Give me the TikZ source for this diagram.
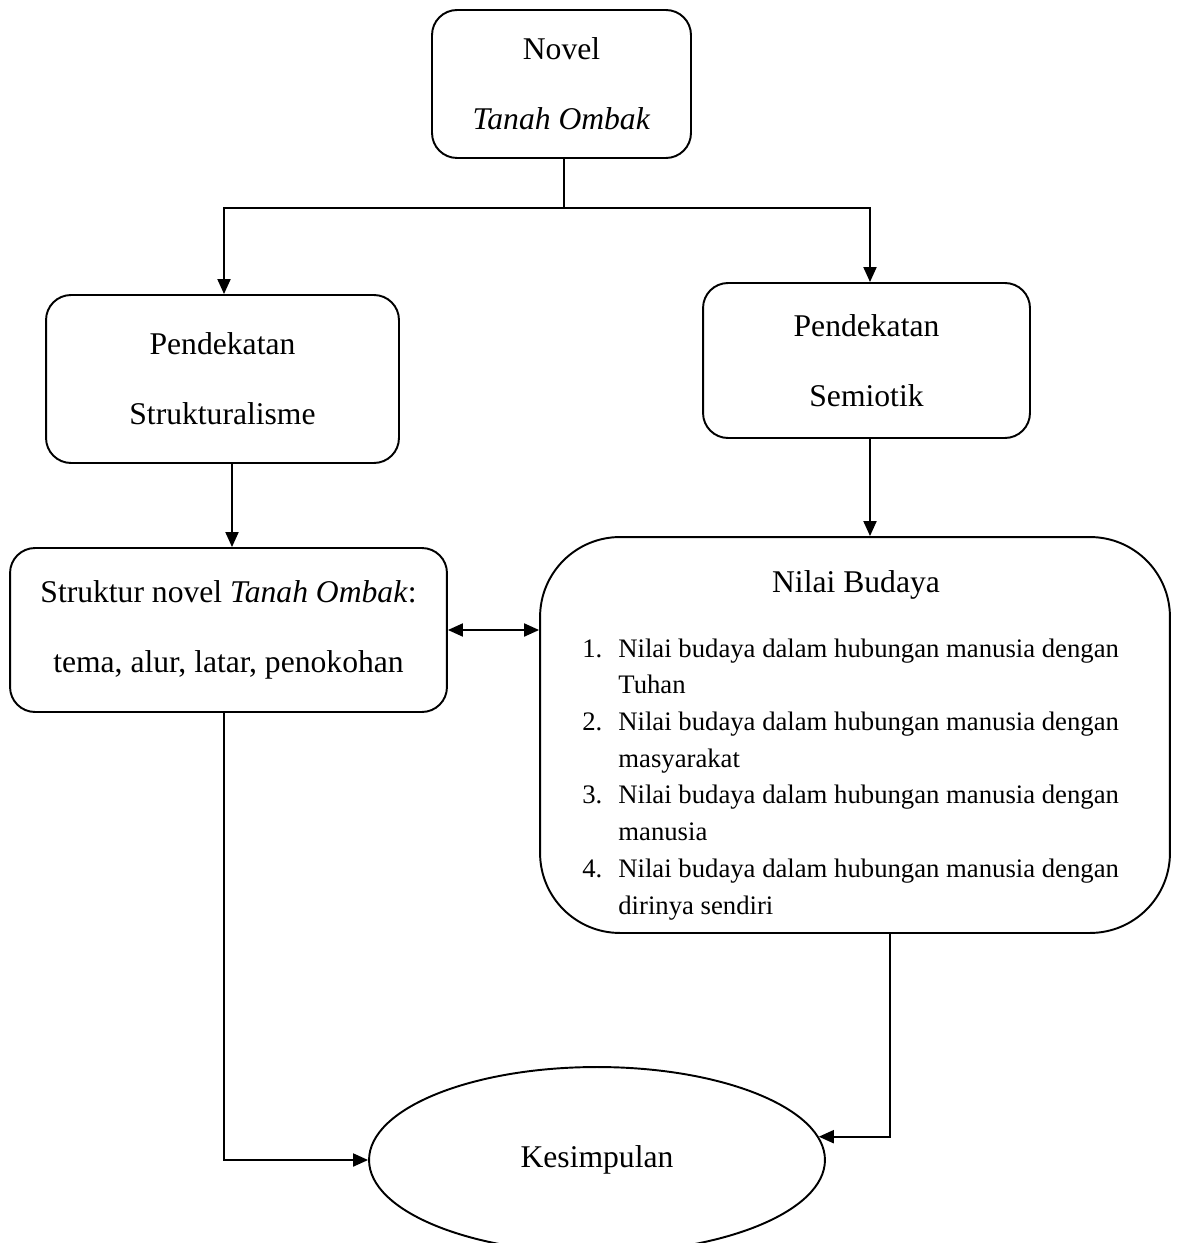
\documentclass[tikz,border=0pt]{standalone}
\usepackage{fontspec}
\setmainfont{Liberation Serif}
\usetikzlibrary{positioning,arrows.meta,shapes.geometric}
\tikzset{
  box/.style={draw, line width=1.1pt, rounded corners=0.5cm, align=center,
              font=\fontsize{18}{40}\selectfont, inner sep=0pt},
  bigbox/.style={draw, line width=1.1pt, rounded corners=1.6cm,
                 minimum width=12.6cm, minimum height=7.92cm},
  title/.style={font=\fontsize{18}{22}\selectfont, inner sep=0pt},
  listtext/.style={font=\fontsize{15.2}{20.9}\selectfont, inner sep=0pt},
  oval/.style={draw, ellipse, line width=1.1pt, font=\fontsize{18}{22}\selectfont,
               minimum width=9.12cm, minimum height=3.72cm},
  flow/.style={-{Triangle[length=3mm,width=2.6mm]}, line width=1.1pt},
  twoway/.style={{Triangle[length=3mm,width=2.6mm]}-{Triangle[length=3mm,width=2.6mm]},
                 line width=1.1pt},
}
\begin{document}
\begin{tikzpicture}[x=0.02cm, y=-0.02cm]
\useasboundingbox (0,0) rectangle (1178,1243);
\node[box, minimum width=5.18cm, minimum height=2.96cm] (novel) at (561.5,84)
  {Novel\\\textit{Tanah Ombak}};
\node[box, minimum width=7.06cm, minimum height=3.36cm] (strukt) at (222.5,379)
  {Pendekatan\\Strukturalisme};
\node[box, minimum width=6.54cm, minimum height=3.1cm] (semio) at (866.5,360.5)
  {Pendekatan\\Semiotik};
\node[box, minimum width=8.74cm, minimum height=3.28cm] (struktur) at (228.5,630)
  {Struktur novel \textit{Tanah Ombak}:\\tema, alur, latar, penokohan};
\node[bigbox] (nilai) at (855,735) {};
\node[title] (nilaititle) at (856,585) {Nilai Budaya};
\node[listtext, anchor=north west] (nilailist) at (582,631) {%
  \begin{tabular}{@{}p{20.5pt}@{}l@{}}
  1. & Nilai budaya dalam hubungan manusia dengan\\
     & Tuhan\\
  2. & Nilai budaya dalam hubungan manusia dengan\\
     & masyarakat\\
  3. & Nilai budaya dalam hubungan manusia dengan\\
     & manusia\\
  4. & Nilai budaya dalam hubungan manusia dengan\\
     & dirinya sendiri
  \end{tabular}};
\node[oval] (kes) at (597,1160) {Kesimpulan};
\coordinate (split) at (564,208);
\draw[line width=1.1pt] (novel.south -| split) -- (split);
\draw[flow] (split) -| ([xshift=0.03cm]strukt.north);
\draw[flow] (split) -| ([xshift=0.07cm]semio.north);
\draw[flow] ([xshift=0.19cm]strukt.south) -- ([xshift=0.19cm]strukt.south |- struktur.north);
\draw[flow] ([xshift=0.07cm]semio.south) -- ([xshift=0.07cm]semio.south |- nilai.north);
\draw[twoway] (struktur.east) -- (struktur.east -| nilai.west);
\draw[flow] ([xshift=-0.09cm]struktur.south) |- (kes.west);
\draw[flow] ([xshift=0.7cm]nilai.south) |- (kes.6);
\end{tikzpicture}
\end{document}
